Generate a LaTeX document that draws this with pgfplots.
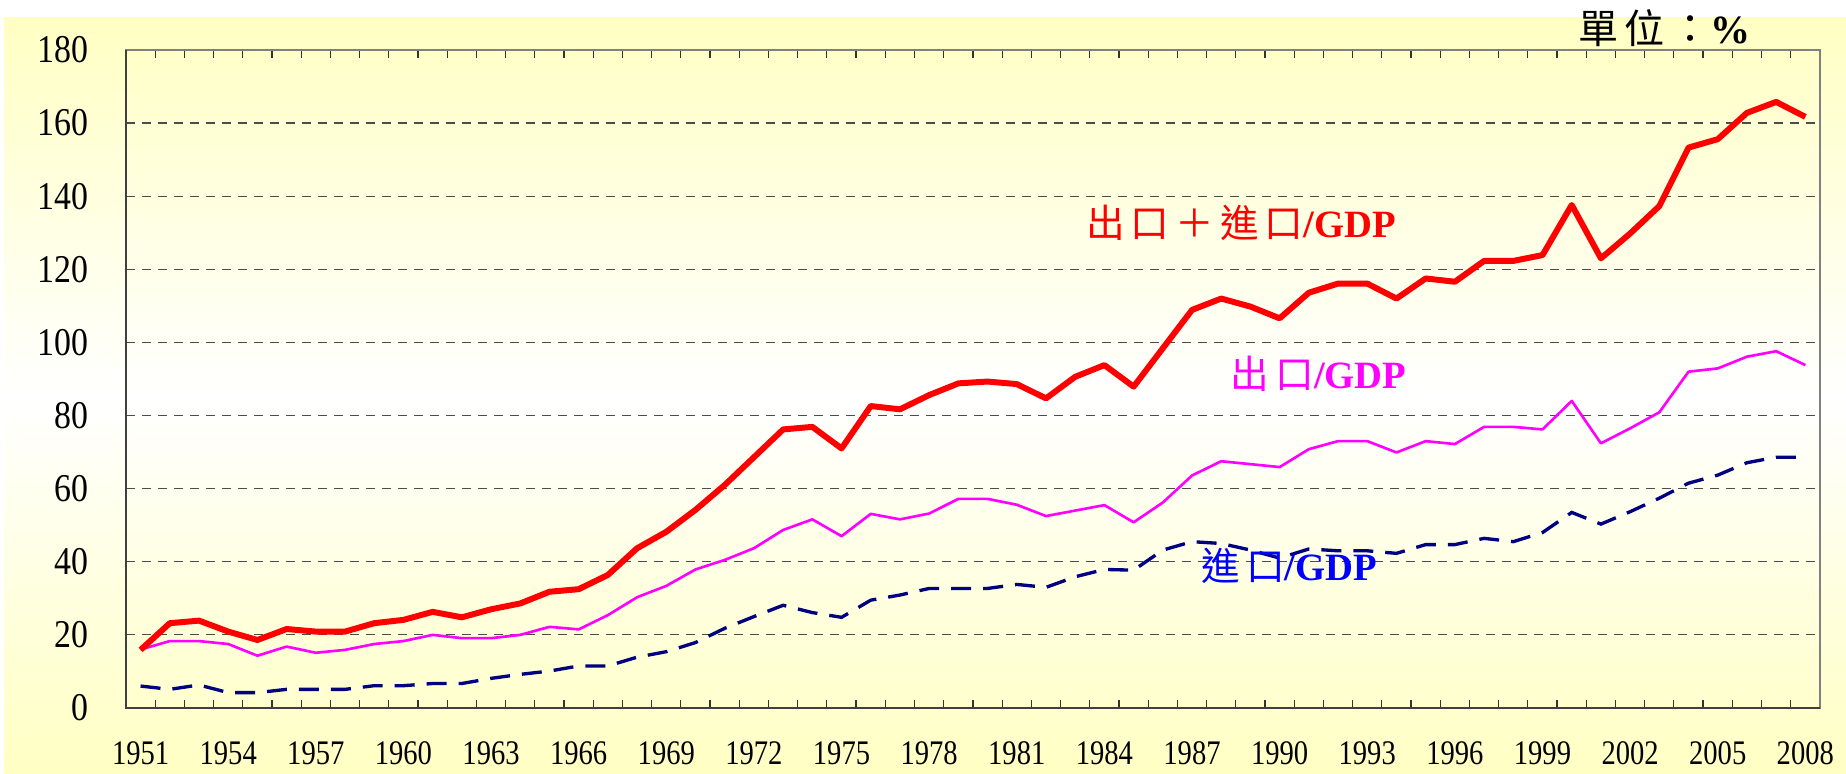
\documentclass[border=0pt]{standalone}
\usepackage{pgfplots}
\pgfplotsset{compat=1.18}
\usepackage{pgfplotstable}
\usepackage{graphicx}
\usepackage{fontspec}
\setmainfont{Liberation Serif}
\newfontfamily\cjk{Noto Sans CJK TC}

\definecolor{bgyellow}{RGB}{255,255,195}
\definecolor{navyline}{RGB}{0,0,128}
\definecolor{labelblue}{RGB}{0,0,255}
\definecolor{purered}{RGB}{255,0,0}
\definecolor{puremagenta}{RGB}{255,0,255}

% trade ratios to GDP (%), Taiwan 1951-2008
\pgfplotstableread{
year total export import
1951 15.9 16.0 6.0
1952 23.2 18.3 5.1
1953 23.9 18.3 6.3
1954 20.9 17.5 4.2
1955 18.6 14.3 4.2
1956 21.6 16.8 5.1
1957 20.9 15.1 5.1
1958 20.9 15.9 5.1
1959 23.2 17.5 6.1
1960 24.1 18.3 6.1
1961 26.3 20.0 6.7
1962 24.8 19.1 6.7
1963 27.0 19.1 8.1
1964 28.6 20.0 9.2
1965 31.8 22.2 10.1
1966 32.5 21.5 11.5
1967 36.4 25.4 11.5
1968 43.7 30.3 13.9
1969 48.2 33.4 15.4
1970 54.2 37.9 17.9
1971 61.0 40.5 21.8
1972 68.6 43.7 25.0
1973 76.2 48.7 28.1
1974 76.9 51.6 26.1
1975 71.0 47.0 24.8
1976 82.6 53.1 29.5
1977 81.7 51.6 30.9
1978 85.6 53.2 32.7
1979 88.8 57.2 32.7
1980 89.3 57.2 32.7
1981 88.6 55.6 33.8
1982 84.7 52.5 33.0
1983 90.6 54.0 35.9
1984 93.8 55.5 37.9
1985 87.9 50.8 37.7
1986 98.4 56.2 43.2
1987 108.9 63.6 45.5
1988 112.0 67.5 45.0
1989 109.8 66.7 43.2
1990 106.6 65.9 41.0
1991 113.6 70.8 43.5
1992 116.1 73.0 43.0
1993 116.1 73.0 43.0
1994 112.0 69.9 42.3
1995 117.5 73.0 44.7
1996 116.6 72.2 44.7
1997 122.3 76.9 46.4
1998 122.3 76.9 45.5
1999 123.9 76.2 48.0
2000 137.6 84.0 53.5
2001 123.0 72.4 50.3
2002 129.8 76.5 53.7
2003 137.3 80.9 57.4
2004 153.3 92.0 61.5
2005 155.6 92.9 63.7
2006 162.8 96.1 67.1
2007 165.8 97.6 68.6
2008 161.7 93.8 68.6
}\tradedata

\newcommand{\lblfont}{\fontsize{11pt}{13pt}\selectfont\bfseries}
\newcommand{\cg}{\hspace{0.6mm}}
\newcommand{\zh}[1]{{\cjk\mdseries #1}}

\begin{document}
\begin{tikzpicture}
% page is 184.6mm x 77.4mm, axis box origin at (0,0)
\useasboundingbox (-12.6mm,-6.6mm) rectangle (172.0mm,70.8mm);
\shade[top color=bgyellow, bottom color=bgyellow, middle color=white]
  (-12.2mm,-6.6mm) rectangle (172.0mm,69.0mm);
\begin{axis}[
    at={(0,0)}, anchor=south west,
    width=169.4mm, height=65.8mm,
    scale only axis,
    clip=false,
    xmin=1950.5, xmax=2008.5,
    ymin=0, ymax=180,
    xtick={1951,1954,...,2008},
    minor xtick={1950.5,1951.5,...,2008.5},
    ytick={0,20,...,180},
    /pgf/number format/assume math mode=true,
    /pgf/number format/1000 sep={},
    xticklabel={\scalebox{0.83}[1]{\pgfmathprintnumber{\tick}}},
    yticklabel={\scalebox{0.86}[1]{\pgfmathprintnumber{\tick}}},
    xticklabel style={anchor=center, inner sep=0pt, yshift=-4.5mm,
        font=\fontsize{9.8pt}{11pt}\selectfont},
    yticklabel style={anchor=east, inner sep=0pt, xshift=-3.7mm,
        font=\fontsize{11.2pt}{13pt}\selectfont},
    major x tick style={draw=none},
    major y tick style={draw=none},
    minor tick length=0.8mm,
    minor x tick style={black!80, line width=0.12mm},
    ymajorgrids,
    major grid style={black!70, line width=0.12mm, dash pattern=on 0.9mm off 0.7mm},
    axis line style={gray, line width=0.25mm},
]
\addplot[navyline, line width=0.95pt, dash pattern=on 2mm off 1.2mm]
    table[x=year, y=import]{\tradedata};
\addplot[puremagenta, line width=0.75pt, line join=round]
    table[x=year, y=export]{\tradedata};
\addplot[purered, line width=1.7pt, line join=round]
    table[x=year, y=total]{\tradedata};

\draw[black!75, line width=0.25mm] (rel axis cs:0,1) -- (rel axis cs:0,0) -- (rel axis cs:1,0);

\node[anchor=base west, inner sep=0pt, text=purered, font=\lblfont]
    at (axis cs:1983.35,128.8) {\zh{出\cg 口\cg ＋\cg 進\cg 口}/GDP};
\node[anchor=base west, inner sep=0pt, text=puremagenta, font=\lblfont]
    at (axis cs:1988.3,87.5) {\zh{出\cg 口}/GDP};
\node[anchor=base west, inner sep=0pt, text=labelblue, font=\lblfont]
    at (axis cs:1987.3,35.0) {\zh{進\cg 口}/GDP};
\node[anchor=base west, inner sep=0pt, text=black, font=\fontsize{11.4pt}{13pt}\selectfont\bfseries]
    at (axis cs:2000.2,181.9) {\zh{單\cg 位\cg ：}\%};
\end{axis}
\end{tikzpicture}
\end{document}
